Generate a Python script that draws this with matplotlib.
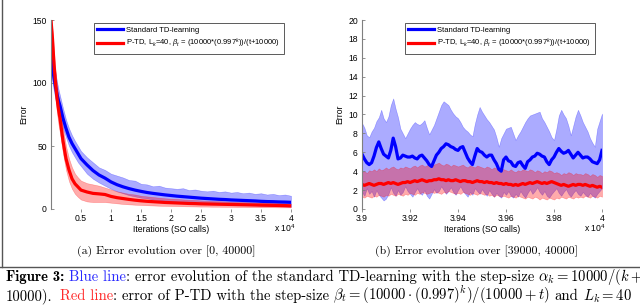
import numpy as np
import matplotlib
matplotlib.use("Agg")
import matplotlib.pyplot as plt
from matplotlib.lines import Line2D

plt.rcParams['font.family'] = ['Liberation Sans', 'DejaVu Sans']
plt.rcParams['mathtext.fontset'] = 'custom'
plt.rcParams['mathtext.rm'] = 'Liberation Sans'
plt.rcParams['mathtext.it'] = 'Liberation Sans:italic'
plt.rcParams['mathtext.bf'] = 'Liberation Sans:bold'

# ---- panel (a): full run, iterations 0..40000
iters_a = [0, 250, 500, 750, 1000, 1250, 1500, 2000, 2500, 3000, 3500, 4000, 4500,
           5000, 6000, 7000, 8000, 9000, 10000, 11000, 12000, 13000, 14000, 15000,
           16000, 17000, 18000, 19000, 20000, 21000, 22000, 23000, 24000, 25000,
           26000, 27000, 28000, 29000, 30000, 31000, 32000, 33000, 34000, 35000,
           36000, 37000, 38000, 39000, 40000]
td_mean_a = [120, 112, 104, 97, 91, 86, 82, 72, 64, 57, 52, 48, 44,
             40, 35, 30.5, 27, 24.5, 21.5, 19.3, 17.6, 16.2, 15, 14, 13.1, 12.4,
             11.8, 11.2, 10.7, 10.2, 9.8, 9.4, 9.0, 8.6, 8.3, 8.0, 7.7, 7.5, 7.2,
             7.0, 6.8, 6.6, 6.4, 6.1, 5.9, 5.8, 5.6, 5.5, 5.3]
td_up_a = [135, 125, 116, 108, 101, 95, 90, 80, 71, 64, 58.5, 54, 50,
           46, 41, 37, 33, 31, 28, 26.5, 25, 23, 22.5, 20, 19.5, 18, 18.5, 17,
           16.5, 16, 16.5, 15, 15.5, 14.5, 14, 14.5, 13.5, 14, 13, 13.5, 12.5,
           13, 12, 12.5, 11.5, 12, 11, 11.5, 10.5]
td_lo_a = [110, 100, 93, 87, 82, 77, 73, 64, 57, 50, 45, 41, 37,
           34, 28, 24, 21, 18.5, 16, 14, 12.5, 11, 10, 9, 8.5, 7.5, 7, 6.5, 6,
           5.8, 5.5, 5, 4.8, 4.5, 4.2, 4, 3.8, 3.6, 3.4, 3.2, 3.1, 3, 2.8, 2.6,
           2.5, 2.3, 2.2, 2.0, 1.9]
ptd_mean_a = [150, 135, 115, 100, 88, 79, 72, 54, 40, 31, 24, 20, 17.5,
              15, 13.5, 12.4, 12, 11.5, 10, 9, 8.3, 7.6, 7, 6.5, 6.1, 5.8, 5.5,
              5.2, 5, 4.8, 4.6, 4.4, 4.3, 4.1, 4.0, 3.9, 3.8, 3.7, 3.6, 3.5, 3.4,
              3.3, 3.2, 3.1, 3.0, 2.9, 2.8, 2.7, 2.5]
ptd_up_a = [152, 142, 124, 110, 98, 89, 82, 64, 50, 40, 33, 28, 25,
            22.5, 20.5, 19.5, 18.5, 17, 15.5, 14, 13, 12, 11.5, 10.5, 10, 9.5,
            9, 8.5, 8.2, 8, 7.6, 7.3, 7.1, 6.8, 6.6, 6.4, 6.2, 6, 5.9, 5.7, 5.6,
            5.4, 5.3, 5.1, 5.0, 4.8, 4.7, 4.5, 4.3]
ptd_lo_a = [145, 125, 105, 88, 76, 67, 60, 44, 31, 22, 16, 12, 9.5,
            7.5, 6, 5.5, 5.5, 5.5, 5, 4.5, 4, 3.7, 3.4, 3.2, 3, 2.8, 2.6, 2.5,
            2.4, 2.3, 2.2, 2.1, 2.0, 1.9, 1.9, 1.8, 1.8, 1.7, 1.7, 1.6, 1.6, 1.5,
            1.5, 1.4, 1.4, 1.4, 1.3, 1.3, 1.3]

# ---- panel (b): zoom on iterations 39000..40000 (101 samples)
iters_b = np.linspace(39000, 40000, 101)
td_mean_b = [5.8, 5.3, 4.9, 4.7, 4.9, 5.6, 6.5, 7.1, 6.4, 5.8, 5.6,
             5.4, 6.2, 7.5, 6.6, 5.3, 5.4, 5.7, 5.6, 5.5, 5.5,
             5.6, 5.4, 5.3, 5.6, 5.7, 5.4, 5.1, 4.7, 4.5, 5.1,
             5.7, 6.0, 6.4, 6.6, 6.9, 6.8, 6.6, 6.5, 6.3, 6.2,
             6.5, 6.6, 6.0, 5.4, 5.0, 4.7, 5.6, 6.4, 6.1, 6.0,
             5.7, 5.5, 5.7, 5.7, 5.2, 4.8, 4.2, 4.0, 5.2, 5.5,
             5.1, 5.0, 4.6, 4.5, 4.9, 5.0, 4.6, 4.3, 5.0, 5.2,
             5.5, 5.6, 5.9, 5.8, 5.6, 5.5, 5.0, 4.7, 5.2, 5.5,
             6.0, 6.4, 6.1, 5.9, 6.0, 6.2, 5.8, 5.4, 5.7, 6.0,
             5.7, 5.4, 5.5, 5.5, 5.3, 5.0, 4.9, 4.8, 5.2, 6.2]
td_up_b = [9.1, 8.6, 7.8, 7.6, 8.2, 8.6, 9.3, 9.7, 10.5, 9.6, 9.2,
           9.8, 11.0, 11.7, 10.6, 9.7, 8.5, 8.0, 7.5, 8.0, 8.5,
           8.9, 9.2, 9.0, 8.9, 9.1, 9.4, 8.6, 7.9, 8.4, 8.9,
           9.6, 10.3, 11.0, 11.4, 11.2, 11.0, 10.5, 10.1, 9.8, 9.6,
           9.2, 8.7, 8.4, 8.2, 7.9, 7.7, 9.0, 10.0, 10.8, 10.3,
           9.9, 9.5, 9.2, 8.8, 8.4, 7.6, 6.6, 7.5, 8.0, 8.5,
           8.6, 8.7, 8.0, 7.3, 7.8, 8.2, 8.7, 9.2, 9.6, 9.9,
           10.0, 10.1, 10.2, 10.3, 9.6, 9.2, 8.7, 8.2, 7.6, 7.3,
           8.5, 9.9, 10.5, 10.0, 9.6, 8.8, 7.8, 8.8, 9.8, 10.5,
           9.9, 9.2, 8.7, 8.2, 7.5, 7.0, 6.6, 8.5, 9.3, 10.1]
td_lo_b = [1.8, 1.4, 2.2, 1.6, 1.9, 1.3, 2.0, 1.5, 1.2, 0.9, 1.1,
           1.6, 2.3, 1.7, 1.4, 2.0, 1.5, 1.8, 2.4, 1.9, 1.6,
           1.3, 1.8, 2.2, 1.7, 1.5, 2.0, 1.4, 1.1, 1.6, 2.1,
           1.7, 1.9, 2.4, 2.0, 1.6, 1.9, 2.3, 1.8, 1.5, 2.0,
           2.4, 1.9, 1.6, 1.3, 1.8, 1.5, 2.2, 1.9, 1.6, 2.1,
           1.7, 1.4, 2.0, 1.6, 1.3, 1.7, 1.4, 1.2, 1.8, 1.5,
           1.9, 1.4, 1.2, 1.6, 1.3, 1.9, 1.5, 1.2, 1.7, 2.1,
           1.6, 1.9, 2.3, 1.8, 1.5, 1.9, 1.4, 1.2, 1.6, 1.9,
           2.2, 1.7, 1.4, 1.8, 2.1, 1.6, 1.3, 1.7, 2.0, 1.6,
           1.4, 1.8, 1.5, 1.3, 1.7, 1.4, 1.2, 1.6, 1.9, 2.2]
ptd_mean_b = [2.6, 2.5, 2.6, 2.7, 2.6, 2.5, 2.6, 2.7, 2.7, 2.6, 2.7,
              2.8, 2.7, 2.8, 2.7, 2.6, 2.7, 2.8, 2.8, 2.9, 2.8,
              2.9, 3.0, 2.9, 3.0, 3.1, 3.0, 2.9, 3.0, 3.0, 3.1,
              3.1, 3.2, 3.1, 3.1, 3.0, 3.1, 3.0, 3.0, 3.1, 3.0,
              2.9, 3.0, 3.0, 2.9, 2.9, 2.8, 2.9, 3.0, 2.9, 2.9,
              2.8, 2.9, 2.8, 2.8, 2.7, 2.8, 2.7, 2.7, 2.6, 2.7,
              2.6, 2.6, 2.5, 2.6, 2.5, 2.6, 2.7, 2.6, 2.7, 2.8,
              2.7, 2.8, 2.9, 2.8, 2.7, 2.8, 2.7, 2.8, 2.9, 2.8,
              2.7, 2.6, 2.5, 2.6, 2.5, 2.4, 2.5, 2.6, 2.5, 2.6,
              2.6, 2.5, 2.6, 2.5, 2.4, 2.5, 2.4, 2.3, 2.4, 2.3]
ptd_up_b = [3.9, 4.0, 3.8, 4.1, 4.0, 4.2, 4.0, 4.3, 4.1, 4.2, 4.4,
            4.2, 4.4, 4.5, 4.3, 4.2, 4.4, 4.3, 4.5, 4.4, 4.3,
            4.5, 4.6, 4.4, 4.6, 4.7, 4.5, 4.6, 4.8, 4.6, 4.7,
            4.8, 4.9, 4.7, 4.6, 4.8, 4.7, 4.5, 4.7, 4.6, 4.5,
            4.6, 4.7, 4.5, 4.4, 4.6, 4.5, 4.4, 4.6, 4.5, 4.4,
            4.3, 4.5, 4.4, 4.2, 4.4, 4.3, 4.1, 4.3, 4.2, 4.1,
            4.0, 4.2, 4.0, 3.9, 4.1, 4.0, 4.2, 4.1, 4.0, 4.2,
            4.1, 3.9, 4.1, 4.0, 3.8, 4.0, 3.9, 4.1, 4.0, 3.8,
            3.9, 3.8, 3.6, 3.8, 3.7, 3.9, 3.8, 3.6, 3.8, 3.7,
            3.7, 3.6, 3.8, 3.7, 3.5, 3.7, 3.6, 3.4, 3.6, 3.5]
ptd_lo_b = [1.3, 1.2, 1.4, 1.3, 1.2, 1.4, 1.3, 1.5, 1.4, 1.3, 1.5,
            1.4, 1.6, 1.5, 1.4, 1.6, 1.5, 1.4, 1.6, 1.5, 1.7,
            1.6, 1.5, 1.7, 1.6, 1.8, 1.7, 1.6, 1.7, 1.8, 1.7,
            1.8, 1.7, 1.6, 1.8, 1.7, 1.9, 1.8, 1.7, 1.6, 1.7,
            1.6, 1.8, 1.7, 1.6, 1.5, 1.7, 1.6, 1.5, 1.7, 1.6,
            1.5, 1.6, 1.4, 1.5, 1.3, 1.5, 1.4, 1.3, 1.4, 1.3,
            1.2, 1.4, 1.3, 1.2, 1.4, 1.3, 1.2, 1.1, 1.3, 1.2,
            1.1, 1.3, 1.2, 1.0, 1.2, 1.1, 1.0, 1.2, 1.1, 1.0,
            1.2, 1.1, 1.3, 1.2, 1.1, 1.3, 1.2, 1.1, 1.3, 1.2,
            1.3, 1.2, 1.4, 1.3, 1.2, 1.4, 1.3, 1.2, 1.4, 1.3]

ticks_a = [5000, 10000, 15000, 20000, 25000, 30000, 35000, 40000]
ticklabels_a = ['0.5', '1', '1.5', '2', '2.5', '3', '3.5', '4']
ticks_b = [39000, 39200, 39400, 39600, 39800, 40000]
ticklabels_b = ['3.9', '3.92', '3.94', '3.96', '3.98', '4']

label_td = 'Standard TD-learning'
label_ptd = r'P-TD, L$_{k}$=40, $\beta_t$ = (10000*(0.997$^{k}$))/(t+10000)'

BLUE = '#0000ff'
RED = '#ff0000'
GRAY = '#7f7f7f'
FS = 6.2

W, H = 640, 305
fig = plt.figure(figsize=(6.4, 3.05), dpi=100)
axL = fig.add_axes([51 / W, 1 - 209 / H, 240 / W, 189 / H])
axR = fig.add_axes([362 / W, 1 - 209 / H, 240 / W, 189 / H])


def draw_panel(ax, x, tm, tu, tl, pm, pu, pl):
    ax.fill_between(x, tl, tu, color=BLUE, alpha=0.33, lw=0.4)
    ax.fill_between(x, pl, pu, color=RED, alpha=0.33, lw=0.4)
    ax.plot(x, tm, color=BLUE, lw=2.3)
    ax.plot(x, pm, color=RED, lw=2.3)
    for s in ['top', 'right', 'bottom']:
        ax.spines[s].set_visible(False)
    ax.spines['left'].set_color(GRAY)
    ax.spines['left'].set_linewidth(0.8)
    ax.tick_params(axis='y', direction='in', length=2.5, width=0.6,
                   color=GRAY, labelsize=FS, pad=3)
    ax.tick_params(axis='x', direction='out', length=1.8, width=0.6,
                   color=GRAY, labelsize=FS, pad=2)
    ax.set_xlabel('Iterations (SO calls)', fontsize=FS, labelpad=1.2)
    ax.set_ylabel('Error', fontsize=FS, labelpad=3)
    hs = [Line2D([], [], color=BLUE, lw=2.3), Line2D([], [], color=RED, lw=2.3)]
    leg = ax.legend(hs, [label_td, label_ptd], loc='upper right',
                    bbox_to_anchor=(0.972, 0.985), fontsize=5.5,
                    fancybox=False, framealpha=1, edgecolor='#404040',
                    handlelength=3.3, handletextpad=0.5, labelspacing=0.4,
                    borderpad=0.5, borderaxespad=0)
    leg.get_frame().set_linewidth(0.6)


draw_panel(axL, iters_a, td_mean_a, td_up_a, td_lo_a,
           ptd_mean_a, ptd_up_a, ptd_lo_a)
axL.set_xlim(0, 40000)
axL.set_ylim(0, 150)
axL.set_yticks([0, 50, 100, 150])
axL.set_xticks(ticks_a, ticklabels_a)

draw_panel(axR, iters_b, td_mean_b, td_up_b, td_lo_b,
           ptd_mean_b, ptd_up_b, ptd_lo_b)
axR.set_xlim(39000, 40000)
axR.set_ylim(0, 20)
axR.set_yticks(range(0, 21, 2))
axR.set_xticks(ticks_b, ticklabels_b)

# exponent markers
for xe in (274, 584):
    fig.text(xe / W, 1 - 232 / H, r'x 10$^{4}$', fontsize=FS)

# sub-captions
fig.text(166 / W, 1 - 254 / H, '(a) Error evolution over [0, 40000]',
         family='cmr10', fontsize=8.5, ha='center', va='baseline')
fig.text(476 / W, 1 - 254 / H, '(b) Error evolution over [39000, 40000]',
         family='cmr10', fontsize=8.5, ha='center', va='baseline')

# frame lines
fig.add_artist(Line2D([1.5 / W, 1.5 / W], [1, 1 - 267 / H], color='#555555',
                      lw=1.0, transform=fig.transFigure))
fig.add_artist(Line2D([0, 1], [1 - 267 / H, 1 - 267 / H], color='#555555',
                      lw=1.0, transform=fig.transFigure))

# figure caption, pieces laid out left to right
renderer = fig.canvas.get_renderer()
CAP = 10.6
GAP = 4.4


def caption_line(y_px, pieces):
    x = 6.0
    for txt, color, fam, gap_before in pieces:
        x += gap_before
        kw = dict(fontsize=CAP, color=color, va='baseline', ha='left')
        if txt.startswith('$'):
            kw['math_fontfamily'] = 'cm'
            kw['family'] = 'cmr10'
        else:
            kw['family'] = fam
        t = fig.text(x / W, 1 - y_px / H, txt, **kw)
        x += t.get_window_extent(renderer).width


caption_line(281, [
    ('Figure 3:', 'black', 'cmb10', 0),
    ('Blue line', '#2a2aff', 'cmr10', GAP),
    (': error evolution of the standard TD-learning with the step-size',
     'black', 'cmr10', 0),
    (r'$\alpha_k = 10000/(k+$', 'black', 'cmr10', GAP),
])
caption_line(300, [
    ('10000).', 'black', 'cmr10', 0),
    ('Red line', '#ff2a2a', 'cmr10', GAP * 1.6),
    (': error of P-TD with the step-size', 'black', 'cmr10', 0),
    (r'$\beta_t = (10000\cdot(0.997)^k)/(10000+t)$', 'black', 'cmr10', GAP),
    ('and', 'black', 'cmr10', GAP),
    (r'$L_k = 40$', 'black', 'cmr10', GAP),
])

fig.savefig('out.png', dpi=100)
